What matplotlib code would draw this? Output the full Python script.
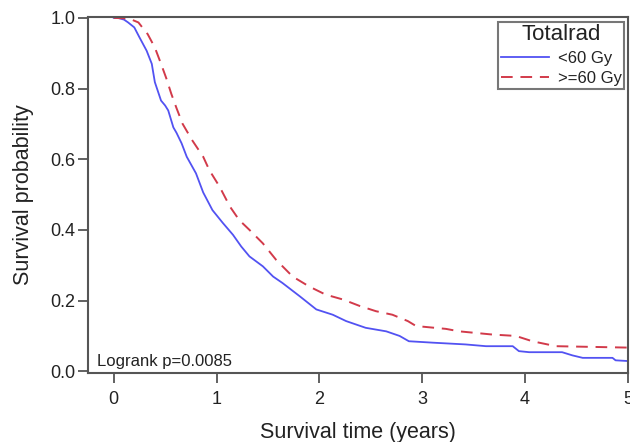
import matplotlib
matplotlib.use("Agg")
import matplotlib.pyplot as plt

plt.rcParams['font.family'] = ['Liberation Sans', 'DejaVu Sans']

# Kaplan-Meier curve corners
t_low = [0, 0.04, 0.10, 0.14, 0.20, 0.25, 0.32, 0.37, 0.40, 0.46, 0.50, 0.53, 0.58,
         0.61, 0.66, 0.71, 0.80, 0.87, 0.96, 1.06, 1.16, 1.24, 1.32, 1.45, 1.55,
         1.64, 1.81, 1.97, 2.13, 2.26, 2.45, 2.65, 2.78, 2.87, 3.10, 3.42, 3.62,
         3.88, 3.94, 4.04, 4.36, 4.46, 4.56, 4.85, 4.88, 5.0]
s_low = [1.0, 1.0, 0.995, 0.987, 0.973, 0.945, 0.907, 0.87, 0.818, 0.766, 0.752, 0.738, 0.69,
         0.675, 0.645, 0.607, 0.56, 0.506, 0.456, 0.42, 0.386, 0.353, 0.325, 0.297, 0.268,
         0.25, 0.212, 0.175, 0.16, 0.142, 0.123, 0.113, 0.10, 0.085, 0.081, 0.076, 0.071,
         0.071, 0.057, 0.054, 0.054, 0.045, 0.038, 0.038, 0.031, 0.029]

t_high = [0, 0.15, 0.24, 0.33, 0.40, 0.46, 0.51, 0.56, 0.61, 0.67, 0.76, 0.87, 0.93,
          1.03, 1.13, 1.22, 1.32, 1.45, 1.58, 1.74, 1.90, 2.06, 2.23, 2.39, 2.55,
          2.71, 2.86, 2.94, 3.23, 3.36, 3.68, 3.91, 4.07, 4.30, 5.0]
s_high = [1.0, 0.998, 0.987, 0.954, 0.916, 0.87, 0.83, 0.785, 0.745, 0.70, 0.655, 0.607, 0.569,
          0.522, 0.466, 0.428, 0.40, 0.362, 0.315, 0.268, 0.24, 0.217, 0.203, 0.185, 0.17,
          0.16, 0.142, 0.128, 0.12, 0.113, 0.104, 0.10, 0.085, 0.071, 0.067]

labels = ['<60 Gy', '>=60 Gy']
x_ticks = [0, 1, 2, 3, 4, 5]
y_ticks = [0.0, 0.2, 0.4, 0.6, 0.8, 1.0]

fig = plt.figure(figsize=(6.3, 4.42), dpi=100)
ax = fig.add_axes([0.1397, 0.156, 0.857, 0.806])

ax.plot(t_low, s_low, color='#5252f2', lw=1.3, label=labels[0])
ax.plot(t_high, s_high, color='#d23a4a', lw=1.4, ls=(0, (6, 4)), label=labels[1])

ax.set_xlim(-0.25, 5.0)
ax.set_ylim(-0.005, 1.003)
ax.set_xticks(x_ticks)
ax.set_xticklabels([str(v) for v in x_ticks])
ax.set_yticks(y_ticks)
ax.set_yticklabels([f'{v:.1f}' for v in y_ticks])

for sp in ax.spines.values():
    sp.set_color('#555555')
    sp.set_linewidth(1.5)
ax.tick_params(direction='out', length=7, width=1.3, color='#555555',
               labelsize=13, labelcolor='#222222')
ax.tick_params(axis='x', pad=6)
ax.tick_params(axis='y', pad=2)

ax.set_xlabel('Survival time (years)', fontsize=15.5, color='#222222', labelpad=10)
ax.set_ylabel('Survival probability', fontsize=15.5, color='#222222', labelpad=12)

ax.text(0.016, 0.012, 'Logrank p=0.0085', transform=ax.transAxes, fontsize=12,
        color='#222222', ha='left', va='bottom')

leg = ax.legend(title='Totalrad', loc='upper right', fontsize=12,
                title_fontsize=16, frameon=True, fancybox=False,
                borderaxespad=0.2, handlelength=2.9, handletextpad=0.5,
                borderpad=0.15, labelspacing=0.32, bbox_to_anchor=(0.999, 0.995))
leg.get_frame().set_edgecolor('#555555')
leg.get_frame().set_linewidth(1.5)
for txt in leg.get_texts():
    txt.set_color('#222222')
leg.get_title().set_color('#222222')

fig.savefig('out.png', dpi=100)
